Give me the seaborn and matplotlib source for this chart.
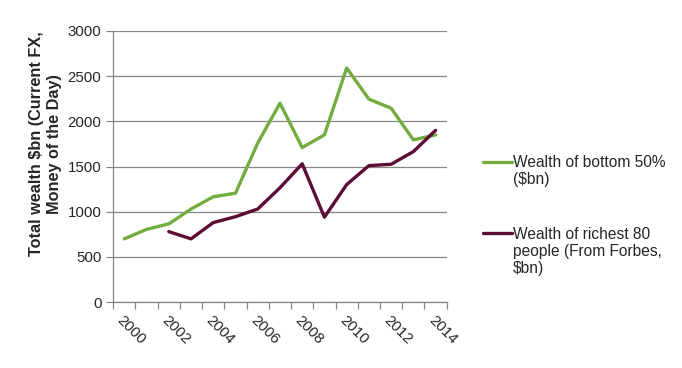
import matplotlib
matplotlib.use("Agg")
import matplotlib.pyplot as plt
from matplotlib.legend_handler import HandlerBase
from matplotlib.lines import Line2D
import numpy as np
import pandas as pd
import seaborn as sns

years = [str(y) for y in range(2000, 2015)]
bottom_50 = [700, 805, 865, 1030, 1165, 1205, 1760, 2200, 1710, 1850, 2590, 2245, 2145, 1795, 1850]
richest_80 = [np.nan, np.nan, 780, 700, 880, 945, 1030, 1265, 1530, 940, 1300, 1510, 1525, 1665, 1900]
lbl_bottom = "Wealth of bottom 50%\n(\\$bn)"
lbl_rich = "Wealth of richest 80\npeople (From Forbes,\n\\$bn)"

sns.set_style("white")
plt.rcParams['font.family'] = ['Liberation Sans', 'DejaVu Sans']
plt.rcParams['font.size'] = 10.5


class TopLineHandler(HandlerBase):
    # put the legend line next to the first text line, as Excel does
    def __init__(self, nlines):
        super().__init__()
        self.nlines = nlines

    def create_artists(self, legend, orig_handle, xdescent, ydescent, width, height, fontsize, trans):
        y = height / 2 - ydescent + (self.nlines - 1) / 2 * 1.2 * fontsize
        line = Line2D([-xdescent, width - xdescent], [y, y], color=orig_handle.get_color(),
                      linewidth=orig_handle.get_linewidth(), transform=trans)
        return [line]


df = pd.DataFrame({"year": years * 2,
                   "value": bottom_50 + richest_80,
                   "series": [lbl_bottom] * len(years) + [lbl_rich] * len(years)})

fig, ax = plt.subplots(figsize=(6.82, 3.68), dpi=100)
fig.subplots_adjust(left=0.166, right=0.655, top=0.916, bottom=0.179)

sns.lineplot(data=df, x="year", y="value", hue="series", sort=False,
             palette=["#74ad3f", "#5d0c35"], linewidth=2.4, ax=ax)

ax.set_xlim(-0.5, len(years) - 0.5)
ax.set_ylim(0, 3000)
ax.set_yticks(range(0, 3001, 500))
ax.yaxis.grid(True, color="#878787", linewidth=0.9)
ax.set_axisbelow(True)

# labels on every other year, ticks on category boundaries
ax.set_xticks(range(0, len(years), 2))
ax.set_xticklabels(years[::2], rotation=-45, ha="left", rotation_mode="anchor")
ax.set_xticks(np.arange(-0.5, len(years)), minor=True)
ax.tick_params(axis="x", which="major", length=0, pad=8, labelsize=10.8)
ax.tick_params(axis="x", which="minor", length=5, color="#878787", width=0.9,
               direction="out", bottom=True)
ax.tick_params(axis="y", length=5, color="#878787", width=0.9, direction="out",
               labelsize=10.8, left=True)

for s in ["top", "right"]:
    ax.spines[s].set_visible(False)
for s in ["left", "bottom"]:
    ax.spines[s].set_color("#878787")
    ax.spines[s].set_linewidth(0.9)

ax.set_xlabel("")
ax.set_ylabel("Total wealth \\$bn (Current FX,\nMoney of the Day)", fontweight="bold",
              fontsize=11.7)
ax.yaxis.set_label_coords(-0.154, 0.583)

handles, labels = ax.get_legend_handles_labels()
ax.get_legend().remove()
fig.legend(handles, labels, loc="upper left", bbox_to_anchor=(0.688, 0.618),
           frameon=False, handlelength=1.85, handletextpad=0.05, labelspacing=2.55,
           fontsize=11.2,
           handler_map={handles[0]: TopLineHandler(2), handles[1]: TopLineHandler(3)})

fig.savefig("out.png", dpi=100)
